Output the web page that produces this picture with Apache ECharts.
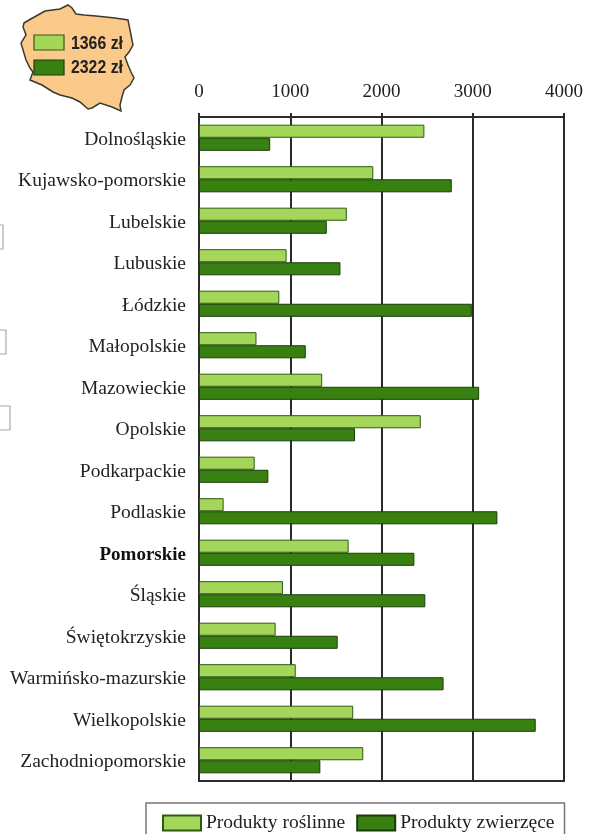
<!DOCTYPE html>
<html>
<head>
<meta charset="utf-8">
<style>
  html, body { margin: 0; padding: 0; background: #fff; }
  #chart { width: 590px; height: 834px; }
</style>
<script src="https://cdn.jsdelivr.net/npm/echarts@6/dist/echarts.min.js"></script>
</head>
<body>
<div id="chart"></div>
<script>
// wojewodztwa, od gory wykresu
const regions = ['Dolnośląskie', 'Kujawsko-pomorskie', 'Lubelskie', 'Lubuskie', 'Łódzkie', 'Małopolskie', 'Mazowieckie', 'Opolskie',
    'Podkarpackie', 'Podlaskie', 'Pomorskie', 'Śląskie', 'Świętokrzyskie', 'Warmińsko-mazurskie', 'Wielkopolskie', 'Zachodniopomorskie'];
const plantProducts = [2470, 1910, 1620, 960, 880, 630, 1350, 2430, 610, 270, 1640, 920, 840, 1060, 1690, 1800];
const animalProducts = [780, 2770, 1400, 1550, 2990, 1170, 3070, 1710, 760, 3270, 2360, 2480, 1520, 2680, 3690, 1330];
const seriesNames = ['Produkty roślinne', 'Produkty zwierzęce'];
const mapValues = ['1366 zł', '2322 zł'];

const LIGHT = '#a4d65a';
const DARK = '#38800f';
const LINE = '#2b2b2b';
const SERIF = '"Liberation Serif", serif';

// obrys Polski na wstawce (tylko dekoracja)
const polandOutline = [[24,23],[29,20],[45,11],[60,9],[68,5],[72,8],[76,14],[84,15],[96,16],[115,18],[128,20],[131,35],[133,45],[129,52],
    [125,57],[128,65],[131,72],[134,78],[130,85],[124,90],[122,97],[120,105],[121,111],[112,107],[100,103],[92,108],[88,109],[80,102],
    [72,98],[60,95],[53,92],[42,85],[30,80],[33,72],[30,68],[26,60],[21,43],[26,35],[23,27]];

const chart = echarts.init(document.getElementById('chart'));
chart.setOption({
    animation: false,
    grid: { show: true, left: 199, right: 26, top: 117, bottom: 53, borderColor: LINE, borderWidth: 2 },
    legend: {
        left: 146, top: 803,
        padding: [10, 10, 12, 16],
        itemWidth: 38, itemHeight: 15, itemGap: 11,
        borderColor: '#777', borderWidth: 1.5, borderRadius: 0,
        icon: 'rect',
        data: seriesNames,
        textStyle: { fontFamily: SERIF, fontSize: 19.5, color: '#222' }
    },
    xAxis: {
        type: 'value', position: 'top', min: 0, max: 4000, interval: 1000,
        axisLine: { show: true, lineStyle: { color: LINE, width: 2 } },
        axisTick: { show: true, length: 4, lineStyle: { color: LINE, width: 2 } },
        axisLabel: { fontFamily: SERIF, fontSize: 19, color: '#222', margin: 15, formatter: v => String(v) },
        splitLine: { show: true, lineStyle: { color: LINE, width: 2 } }
    },
    yAxis: {
        type: 'category', inverse: true, data: regions,
        axisLine: { show: true, onZero: false, lineStyle: { color: LINE, width: 2 } },
        axisTick: { show: false },
        axisLabel: {
            margin: 13, fontFamily: SERIF, fontSize: 19.5, color: '#222', padding: [4, 0, 0, 0],
            formatter: v => v === 'Pomorskie' ? '{b|' + v + '}' : v,
            rich: { b: { fontFamily: SERIF, fontSize: 19, fontWeight: 'bold', color: '#111' } }
        }
    },
    series: [
        { name: seriesNames[0], type: 'bar', data: plantProducts, barGap: 0, barCategoryGap: '37%',
          itemStyle: { color: LIGHT, borderColor: '#2f5a12', borderWidth: 1 } },
        { name: seriesNames[1], type: 'bar', data: animalProducts,
          itemStyle: { color: DARK, borderColor: '#173d0b', borderWidth: 1 } }
    ],
    graphic: [
        { type: 'polygon', shape: { points: polandOutline }, style: { fill: '#fbc98a', stroke: '#3a3a30', lineWidth: 1.5 } },
        { type: 'rect', shape: { x: 34, y: 35, width: 30, height: 15 }, style: { fill: LIGHT, stroke: '#2f5a12', lineWidth: 1.2 } },
        { type: 'rect', shape: { x: 34, y: 60, width: 30, height: 15 }, style: { fill: DARK, stroke: '#1f3d10', lineWidth: 1.2 } },
        { type: 'text', x: 71, y: 35, scaleX: 0.88, style: { text: mapValues[0], fontFamily: '"Liberation Sans", sans-serif', fontSize: 18, fontWeight: 'bold', fill: '#222' } },
        { type: 'text', x: 71, y: 59, scaleX: 0.88, style: { text: mapValues[1], fontFamily: '"Liberation Sans", sans-serif', fontSize: 18, fontWeight: 'bold', fill: '#222' } },
        // resztki ramek przy lewej krawedzi skanu
        { type: 'rect', shape: { x: -10, y: 225, width: 13, height: 24 }, style: { fill: 'none', stroke: '#aaa', lineWidth: 1.2 } },
        { type: 'rect', shape: { x: -10, y: 330, width: 16, height: 24 }, style: { fill: 'none', stroke: '#aaa', lineWidth: 1.2 } },
        { type: 'rect', shape: { x: -10, y: 406, width: 20, height: 24 }, style: { fill: 'none', stroke: '#aaa', lineWidth: 1.2 } }
    ]
});
</script>
</body>
</html>
